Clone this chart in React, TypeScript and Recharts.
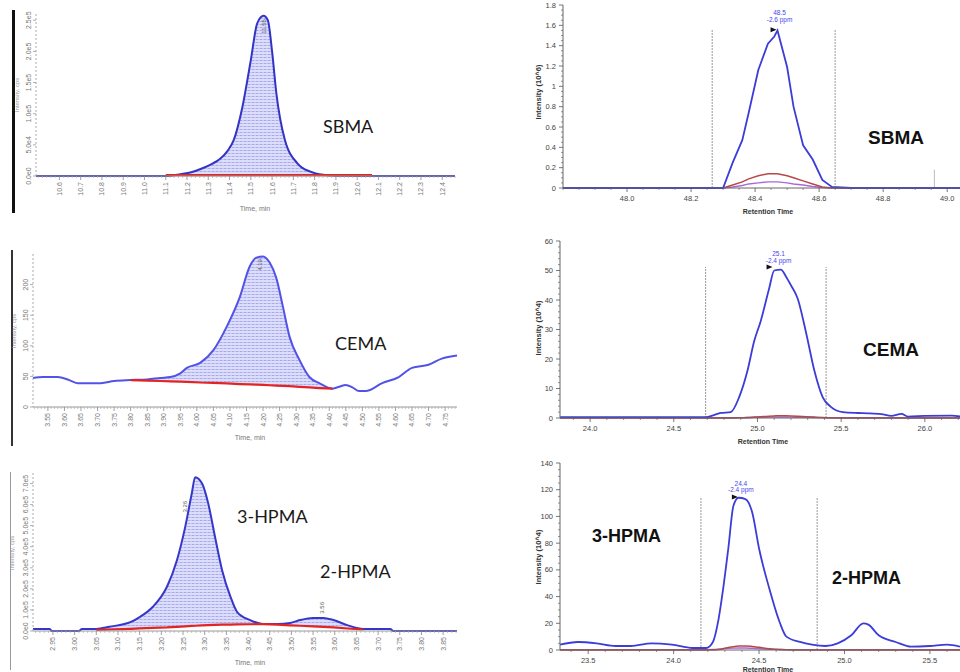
import React from 'react';
import { ComposedChart, Line, Area, XAxis, YAxis, ReferenceLine, ReferenceDot } from 'recharts';

// ================= DATA =================
// Top-left: SBMA (Time, min)
const sbmaLTime = [10.49, 10.8, 11.1, 11.17, 11.22, 11.27, 11.32, 11.35, 11.39, 11.42, 11.46, 11.5, 11.53, 11.56, 11.58, 11.6, 11.62, 11.66, 11.72, 11.78, 11.84, 11.9, 12.07, 12.3, 12.46];
const sbmaLSignal = [0, 0, 0, 3000, 6000, 12000, 20000, 26000, 40000, 58000, 110000, 186000, 245000, 257000, 250000, 200000, 133000, 58000, 20000, 7000, 2000, 500, 0, 0, 0];
const sbmaLBase = [null, null, 1500, 1500, 1500, 1500, 1500, 1500, 1500, 1500, 1500, 1500, 1500, 1500, 1500, 1500, 1500, 1500, 1500, 1500, 1500, 1500, 1500, null, null];
const sbmaLXTicks = [10.6, 10.7, 10.8, 10.9, 11.0, 11.1, 11.2, 11.3, 11.4, 11.5, 11.6, 11.7, 11.8, 11.9, 12.0, 12.1, 12.2, 12.3, 12.4];
const sbmaLYTicks = [0, 50000, 100000, 150000, 200000, 250000];
const sbmaLYLabels = ['0.0e0', '5.0e4', '1.0e5', '1.5e5', '2.0e5', '2.5e5'];
const sbmaLPeakTags = [{ t: 11.56, v: 240000, label: '11.55' }];

// Middle-left: CEMA
const cemaLTime = [3.505, 3.535, 3.58, 3.61, 3.64, 3.71, 3.75, 3.8, 3.85, 3.89, 3.92, 3.95, 3.97, 4.01, 4.05, 4.09, 4.13, 4.16, 4.18, 4.2, 4.22, 4.24, 4.26, 4.28, 4.31, 4.34, 4.37, 4.41, 4.43, 4.45, 4.47, 4.49, 4.51, 4.56, 4.61, 4.65, 4.7, 4.74, 4.786];
const cemaLSignal = [47.5, 49, 49, 45, 39, 39, 42.5, 44, 45, 47.5, 49, 55, 64, 72, 93, 131, 180, 230, 244, 246, 236, 211, 164, 115, 77, 49, 39, 30, 33, 36, 32, 26, 26, 39, 49, 64, 69, 79, 84];
const cemaLBase = [null, null, null, null, null, null, null, 44, 43, 42.5, 42, 41.5, 41, 40, 39.5, 38.5, 37.5, 37, 36.5, 36, 35.5, 35, 34.5, 34, 33, 32, 31, 30, null, null, null, null, null, null, null, null, null, null, null];
const cemaLXTicks = [3.55, 3.6, 3.65, 3.7, 3.75, 3.8, 3.85, 3.9, 3.95, 4.0, 4.05, 4.1, 4.15, 4.2, 4.25, 4.3, 4.35, 4.4, 4.45, 4.5, 4.55, 4.6, 4.65, 4.7, 4.75];
const cemaLYTicks = [0, 50, 100, 150, 200];
const cemaLYLabels = ['0', '50', '100', '150', '200'];
const cemaLPeakTags = [{ t: 4.19, v: 232, label: '4.19' }];

// Bottom-left: 3-HPMA / 2-HPMA
const hpmaLTime = [2.904, 2.943, 2.947, 3.01, 3.017, 3.05, 3.08, 3.13, 3.15, 3.18, 3.213, 3.236, 3.255, 3.27, 3.278, 3.294, 3.308, 3.324, 3.34, 3.36, 3.375, 3.405, 3.435, 3.467, 3.497, 3.52, 3.55, 3.574, 3.597, 3.629, 3.666, 3.728, 3.735, 3.882];
const hpmaLSignal = [10000, 10000, 0, 0, 10000, 10000, 20000, 43000, 66000, 114000, 210000, 336000, 493000, 650000, 730000, 700000, 607000, 445000, 290000, 160000, 90000, 52000, 33000, 33000, 38000, 52000, 62000, 62000, 52000, 28000, 10000, 10000, 0, 0];
const hpmaLBase = [null, null, null, null, null, 5000, 7000, 10000, 12000, 15000, 17000, 20000, 22000, 24000, 25000, 27000, 28000, 29000, 30000, 30000, 31000, 32000, 33000, 30000, 27000, 25000, 22000, 20000, 17000, 12000, 7000, null, null, null];
const hpmaLXTicks = [2.95, 3.0, 3.05, 3.1, 3.15, 3.2, 3.25, 3.3, 3.35, 3.4, 3.45, 3.5, 3.55, 3.6, 3.65, 3.7, 3.75, 3.8, 3.85];
const hpmaLYTicks = [0, 100000, 200000, 300000, 400000, 500000, 600000, 700000];
const hpmaLYLabels = ['0.0e0', '1.0e5', '2.0e5', '3.0e5', '4.0e5', '5.0e5', '6.0e5', '7.0e5'];
const hpmaLPeakTags = [{ t: 3.254, v: 590000, label: '3.26' }, { t: 3.57, v: 110000, label: '3.56' }];

// Top-right: SBMA (Retention Time, Intensity 10^6)
const sbmaRTime = [47.8, 48.0, 48.2, 48.27, 48.3, 48.33, 48.36, 48.38, 48.41, 48.44, 48.46, 48.47, 48.5, 48.52, 48.55, 48.58, 48.61, 48.64, 48.7, 49.04];
const sbmaRBlue = [0, 0, 0, 0, 0, 0.25, 0.47, 0.74, 1.16, 1.42, 1.49, 1.55, 1.19, 0.8, 0.42, 0.28, 0.08, 0.01, 0, 0];
const sbmaRRed = [0, 0, 0, 0, 0, 0.03, 0.06, 0.09, 0.12, 0.14, 0.14, 0.14, 0.12, 0.1, 0.07, 0.04, 0.01, 0, 0, 0];
const sbmaRPurple = [0, 0, 0, 0, 0, 0.01, 0.025, 0.04, 0.05, 0.06, 0.06, 0.06, 0.05, 0.04, 0.03, 0.015, 0.005, 0, 0, 0];
const sbmaRXTicks = [48.0, 48.2, 48.4, 48.6, 48.8, 49.0];
const sbmaRYTicks = [0, 0.2, 0.4, 0.6, 0.8, 1, 1.2, 1.4, 1.6, 1.8];
const sbmaRWindow = [48.266, 48.65];
const sbmaRMarker = { t: 48.96, v: 0.18 };
const sbmaRPeak = { t: 48.467, v: 1.557, label: '48.5', ppm: '-2.6 ppm' };

// Middle-right: CEMA (Intensity 10^4)
const cemaRTime = [23.82, 24.0, 24.3, 24.5, 24.69, 24.74, 24.78, 24.84, 24.89, 24.94, 24.98, 25.02, 25.07, 25.1, 25.14, 25.17, 25.2, 25.24, 25.29, 25.34, 25.39, 25.44, 25.51, 25.6, 25.66, 25.74, 25.8, 25.86, 25.9, 26.0, 26.16, 26.21];
const cemaRBlue = [0.3, 0.3, 0.3, 0.3, 0.3, 1.0, 1.7, 2.0, 7, 16, 26, 33, 44, 50, 50.3, 48, 45, 40.5, 29, 16, 7, 3.7, 2, 1.7, 1.6, 1.3, 0.7, 1.4, 0.5, 0.7, 0.8, 0.5];
const cemaRRed = [0, 0, 0, 0, 0, 0, 0, 0, 0.05, 0.15, 0.3, 0.45, 0.6, 0.7, 0.8, 0.75, 0.7, 0.6, 0.45, 0.3, 0.15, 0.05, 0, 0, 0, 0, 0, 0, 0, 0, 0, 0];
const cemaRPurple = [0.1, 0.1, 0.1, 0.1, 0.1, 0.1, 0.1, 0.1, 0.12, 0.15, 0.2, 0.25, 0.3, 0.32, 0.35, 0.33, 0.3, 0.25, 0.2, 0.15, 0.12, 0.1, 0.1, 0.1, 0.1, 0.1, 0.1, 0.1, 0.1, 0.1, 0.1, 0.1];
const cemaRXTicks = [24.0, 24.5, 25.0, 25.5, 26.0];
const cemaRYTicks = [0, 10, 20, 30, 40, 50, 60];
const cemaRWindow = [24.69, 25.41];
const cemaRPeak = { t: 25.09, v: 51.2, label: '25.1', ppm: '-2.4 ppm' };

// Bottom-right: 3-HPMA / 2-HPMA (Intensity 10^4)
const hpmaRTime = [23.335, 23.44, 23.55, 23.66, 23.75, 23.87, 23.99, 24.11, 24.19, 24.23, 24.26, 24.29, 24.32, 24.35, 24.38, 24.42, 24.46, 24.5, 24.56, 24.62, 24.66, 24.74, 24.81, 24.89, 24.96, 25.04, 25.11, 25.14, 25.2, 25.3, 25.39, 25.5, 25.6, 25.676];
const hpmaRBlue = [4, 6, 5, 3, 3, 5, 4, 1.5, 1.5, 6, 21, 46, 76, 108, 114, 113, 103, 76, 46, 21, 10, 6, 4, 3, 5, 11, 20, 19, 11, 6, 2.5, 3, 4, 2.5];
const hpmaRRed = [0, 0, 0, 0, 0, 0, 0, 0, 0, 0.1, 0.4, 1, 1.8, 2.5, 3, 3, 2.6, 2, 1, 0.4, 0.2, 0, 0, 0, 0, 0, 0, 0, 0, 0, 0, 0, 0, 0];
const hpmaRPurple = [0.3, 0.3, 0.3, 0.3, 0.3, 0.3, 0.3, 0.3, 0.3, 0.4, 0.6, 0.9, 1.2, 1.4, 1.5, 1.5, 1.3, 1.0, 0.6, 0.4, 0.3, 0.3, 0.3, 0.3, 0.3, 0.3, 0.3, 0.3, 0.3, 0.3, 0.3, 0.3, 0.3, 0.3];
const hpmaRXTicks = [23.5, 24.0, 24.5, 25.0, 25.5];
const hpmaRYTicks = [0, 20, 40, 60, 80, 100, 120, 140];
const hpmaRWindow = [24.16, 24.84];
const hpmaRPeak = { t: 24.376, v: 114.6, label: '24.4', ppm: '-2.4 ppm' };

// ================= HELPERS =================
const near = (a: number, b: number) => Math.abs(a - b) < 1e-6;

function withMinors(majors: number[], d0: number, d1: number, step: number) {
  const out: number[] = [...majors];
  const s = Math.ceil(d0 / step - 1e-9);
  const e = Math.floor(d1 / step + 1e-9);
  for (let k = s; k <= e; k++) {
    const v = +(k * step).toFixed(5);
    if (!out.some((m) => near(m, v))) out.push(v);
  }
  return out.sort((a, b) => a - b);
}

const LEFT_FONT = 'Liberation Sans, Arial, sans-serif';

function leftXTick(majors: number[], digits: number) {
  return (props: any) => {
    const { x, y, payload } = props;
    const major = majors.some((m) => near(m, payload.value));
    if (!major) return <line x1={x} y1={y} x2={x} y2={y + 2} stroke="#aaa" strokeWidth={0.7} />;
    const ty = y + 6;
    return (
      <g>
        <line x1={x} y1={y} x2={x} y2={y + 4} stroke="#888" strokeWidth={0.8} />
        <text x={x} y={ty} transform={`rotate(-90 ${x} ${ty})`} textAnchor="end" dominantBaseline="central" fontSize={7} fill="#777" fontFamily={LEFT_FONT}>
          {payload.value.toFixed(digits)}
        </text>
      </g>
    );
  };
}

function leftYTick(ticks: number[], labels: string[]) {
  return (props: any) => {
    const { x, y, payload } = props;
    const i = ticks.findIndex((m) => near(m, payload.value));
    const tx = x - 5;
    return (
      <g>
        <line x1={x} y1={y} x2={x - 3} y2={y} stroke="#999" strokeWidth={0.8} />
        <text x={tx} y={y} transform={`rotate(-90 ${tx} ${y})`} textAnchor="middle" fontSize={7} fill="#777" fontFamily={LEFT_FONT}>
          {i >= 0 ? labels[i] : ''}
        </text>
      </g>
    );
  };
}

function rightYTick(majors: number[]) {
  return (props: any) => {
    const { x, y, payload } = props;
    const major = majors.some((m) => near(m, payload.value));
    if (!major) return <line x1={x} y1={y} x2={x - 2} y2={y} stroke="#666" strokeWidth={0.7} />;
    return (
      <g>
        <line x1={x} y1={y} x2={x - 4} y2={y} stroke="#555" strokeWidth={0.8} />
        <text x={x - 7} y={y} textAnchor="end" dominantBaseline="central" fontSize={7.5} fill="#444" fontFamily={LEFT_FONT}>
          {String(+payload.value.toFixed(1))}
        </text>
      </g>
    );
  };
}

function rightXTick(majors: number[]) {
  return (props: any) => {
    const { x, y, payload } = props;
    const major = majors.some((m) => near(m, payload.value));
    if (!major) return <line x1={x} y1={y} x2={x} y2={y + 2} stroke="#666" strokeWidth={0.7} />;
    return (
      <g>
        <line x1={x} y1={y} x2={x} y2={y + 4} stroke="#555" strokeWidth={0.8} />
        <text x={x} y={y + 10} textAnchor="middle" dominantBaseline="central" fontSize={7.5} fill="#444" fontFamily={LEFT_FONT}>
          {payload.value.toFixed(1)}
        </text>
      </g>
    );
  };
}

const leftTagShape = (label: string) => (props: any) => {
  const { cx, cy } = props;
  return (
    <text x={cx} y={cy} transform={`rotate(-90 ${cx} ${cy})`} textAnchor="middle" dominantBaseline="central" fontSize={6} fill="#555" fontFamily={LEFT_FONT}>
      {label}
    </text>
  );
};

const rightTagShape = (label: string, ppm: string, dx: number, dy1: number, dy2: number) => (props: any) => {
  const { cx, cy } = props;
  return (
    <g>
      <text x={cx + dx} y={cy + dy1} textAnchor="middle" dominantBaseline="central" fontSize={6.5} fill="#4646f0" fontFamily={LEFT_FONT}>{label}</text>
      <text x={cx + dx} y={cy + dy2} textAnchor="middle" dominantBaseline="central" fontSize={6.5} fill="#4646f0" fontFamily={LEFT_FONT}>{ppm}</text>
      <polygon points={`${cx - 6},${cy - 2.5} ${cx - 6},${cy + 2.5} ${cx},${cy}`} fill="#111" />
    </g>
  );
};

type LeftProps = {
  left: number; top: number; width: number; height: number;
  mTop: number; mRight: number; yW: number; xH: number;
  time: number[]; sig: number[]; base: (number | null)[];
  xDomain: [number, number]; yDomain: [number, number];
  xMajors: number[]; xMinor: number; digits: number;
  yTicks: number[]; yLabels: string[];
  tags: { t: number; v: number; label: string }[];
  id: string; color: string;
};

function LeftPanel(p: LeftProps) {
  const rows = p.time.map((t, i) => ({
    t,
    sig: p.sig[i],
    base: p.base[i],
    band: p.base[i] == null ? null : [p.base[i], p.sig[i]],
  }));
  const xt = withMinors(p.xMajors, p.xDomain[0], p.xDomain[1], p.xMinor);
  return (
    <div style={{ position: 'absolute', left: p.left, top: p.top }}>
      <ComposedChart width={p.width} height={p.height} data={rows} margin={{ top: p.mTop, right: p.mRight, bottom: 0, left: 0 }}>
        <defs>
          <pattern id={p.id} width="4" height="3" patternUnits="userSpaceOnUse">
            <rect width="4" height="3" fill="#dcdcfb" />
            <line x1="0" y1="0.5" x2="4" y2="0.5" stroke="#9c9cea" strokeWidth="0.8" strokeDasharray="2.5 1" />
          </pattern>
        </defs>
        <XAxis dataKey="t" type="number" domain={p.xDomain} ticks={xt} interval={0}
          tick={leftXTick(p.xMajors, p.digits)} tickLine={false} tickSize={0} tickMargin={0}
          axisLine={{ stroke: '#999', strokeWidth: 1 }} height={p.xH} />
        <YAxis type="number" domain={p.yDomain} ticks={p.yTicks} interval={0}
          tick={leftYTick(p.yTicks, p.yLabels)} tickLine={false} tickSize={0} tickMargin={0}
          axisLine={{ stroke: '#aaa', strokeDasharray: '2 2' }} width={p.yW} />
        <Area dataKey="band" type="monotone" fill={`url(#${p.id})`} fillOpacity={1} stroke="none" isAnimationActive={false} connectNulls={false} dot={false} activeDot={false} />
        <Line dataKey="sig" type="monotone" stroke={p.color} strokeWidth={2} dot={false} activeDot={false} isAnimationActive={false} />
        <Line dataKey="base" type="linear" stroke="#e22424" strokeWidth={2.2} dot={false} activeDot={false} isAnimationActive={false} connectNulls={false} />
        {p.tags.map((tg, i) => (
          <ReferenceDot key={i} x={tg.t} y={tg.v} r={0} shape={leftTagShape(tg.label)} />
        ))}
      </ComposedChart>
    </div>
  );
}

type RightProps = {
  left: number; top: number; width: number; height: number;
  mTop: number; yW: number; xH: number;
  time: number[]; blue: number[]; red: number[]; purple: number[];
  xDomain: [number, number]; yDomain: [number, number];
  xMajors: number[]; xMinor: number; yMajors: number[]; yMinor: number;
  win: number[]; peak: { t: number; v: number; label: string; ppm: string };
  marker?: { t: number; v: number };
  tagDx: number; tagDy1: number; tagDy2: number; curve: 'linear' | 'monotone';
};

function RightPanel(p: RightProps) {
  const rows = p.time.map((t, i) => ({ t, blue: p.blue[i], red: p.red[i], purple: p.purple[i] }));
  const xt = withMinors(p.xMajors, p.xDomain[0], p.xDomain[1], p.xMinor);
  const yt = withMinors(p.yMajors, p.yDomain[0], p.yDomain[1], p.yMinor);
  return (
    <div style={{ position: 'absolute', left: p.left, top: p.top }}>
      <ComposedChart width={p.width} height={p.height} data={rows} margin={{ top: p.mTop, right: 0, bottom: 0, left: 0 }}>
        <XAxis dataKey="t" type="number" domain={p.xDomain} ticks={xt} interval={0}
          tick={rightXTick(p.xMajors)} tickLine={false} tickSize={0} tickMargin={0}
          axisLine={{ stroke: '#666', strokeWidth: 1 }} height={p.xH} />
        <YAxis type="number" domain={p.yDomain} ticks={yt} interval={0}
          tick={rightYTick(p.yMajors)} tickLine={false} tickSize={0} tickMargin={0}
          axisLine={{ stroke: '#666', strokeWidth: 1 }} width={p.yW} />
        {p.win.map((w, i) => (
          <ReferenceLine key={i} segment={[{ x: w, y: 0 }, { x: w, y: p.peak.v }]} stroke="#999" strokeWidth={1} strokeDasharray="2 1" />
        ))}
        {p.marker && (
          <ReferenceLine segment={[{ x: p.marker.t, y: 0 }, { x: p.marker.t, y: p.marker.v }]} stroke="#bbb" strokeWidth={1} />
        )}
        <Line dataKey="purple" type={p.curve} stroke="#a868dc" strokeWidth={1.4} dot={false} activeDot={false} isAnimationActive={false} />
        <Line dataKey="red" type={p.curve} stroke="#b84848" strokeWidth={1.5} dot={false} activeDot={false} isAnimationActive={false} />
        <Line dataKey="blue" type={p.curve} stroke="#3c3cd8" strokeWidth={1.8} dot={false} activeDot={false} isAnimationActive={false} />
        <ReferenceDot x={p.peak.t} y={p.peak.v} r={0} shape={rightTagShape(p.peak.label, p.peak.ppm, p.tagDx, p.tagDy1, p.tagDy2)} />
      </ComposedChart>
    </div>
  );
}

// ================= APP =================
export default function App() {
  const calibri = 'Lato, "Open Sans", sans-serif';
  const arial = '"Liberation Sans", Arial, sans-serif';
  return (
    <div style={{ position: 'absolute', left: 0, top: 0, width: 960, height: 672, background: '#fff', overflow: 'hidden' }}>
      <LeftPanel left={0} top={0} width={460} height={215} mTop={14} mRight={5} yW={36} xH={39}
        time={sbmaLTime} sig={sbmaLSignal} base={sbmaLBase}
        xDomain={[10.49, 12.46]} yDomain={[0, 260000]}
        xMajors={sbmaLXTicks} xMinor={0.02} digits={1}
        yTicks={sbmaLYTicks} yLabels={sbmaLYLabels} tags={sbmaLPeakTags} id="hatchA" color="#3333c4" />
      <LeftPanel left={0} top={240} width={460} height={210} mTop={14} mRight={3} yW={33} xH={43}
        time={cemaLTime} sig={cemaLSignal} base={cemaLBase}
        xDomain={[3.505, 4.786]} yDomain={[0, 250]}
        xMajors={cemaLXTicks} xMinor={0.01} digits={2}
        yTicks={cemaLYTicks} yLabels={cemaLYLabels} tags={cemaLPeakTags} id="hatchB" color="#5252e6" />
      <LeftPanel left={0} top={460} width={460} height={212} mTop={13} mRight={3} yW={33} xH={41}
        time={hpmaLTime} sig={hpmaLSignal} base={hpmaLBase}
        xDomain={[2.904, 3.882]} yDomain={[0, 750000]}
        xMajors={hpmaLXTicks} xMinor={0.01} digits={2}
        yTicks={hpmaLYTicks} yLabels={hpmaLYLabels} tags={hpmaLPeakTags} id="hatchC" color="#3636c8" />

      <RightPanel left={520} top={0} width={440} height={215} mTop={5} yW={43} xH={27}
        time={sbmaRTime} blue={sbmaRBlue} red={sbmaRRed} purple={sbmaRPurple}
        xDomain={[47.8, 49.04]} yDomain={[0, 1.8]} xMajors={sbmaRXTicks} xMinor={0.05}
        yMajors={sbmaRYTicks} yMinor={0.05} win={sbmaRWindow} peak={sbmaRPeak} marker={sbmaRMarker}
        tagDx={3} tagDy1={-17} tagDy2={-10} curve="linear" />
      <RightPanel left={520} top={230} width={440} height={220} mTop={11} yW={40} xH={32}
        time={cemaRTime} blue={cemaRBlue} red={cemaRRed} purple={cemaRPurple}
        xDomain={[23.82, 26.21]} yDomain={[0, 60]} xMajors={cemaRXTicks} xMinor={0.1}
        yMajors={cemaRYTicks} yMinor={2} win={cemaRWindow} peak={cemaRPeak}
        tagDx={6} tagDy1={-13} tagDy2={-6} curve="monotone" />
      <RightPanel left={520} top={455} width={440} height={217} mTop={8} yW={40} xH={22}
        time={hpmaRTime} blue={hpmaRBlue} red={hpmaRRed} purple={hpmaRPurple}
        xDomain={[23.335, 25.676]} yDomain={[0, 140]} xMajors={hpmaRXTicks} xMinor={0.1}
        yMajors={hpmaRYTicks} yMinor={5} win={hpmaRWindow} peak={hpmaRPeak}
        tagDx={3} tagDy1={-13} tagDy2={-7} curve="monotone" />

      {/* frame bars of left panels */}
      <div style={{ position: 'absolute', left: 12, top: 10, width: 3, height: 203, background: '#111' }} />
      <div style={{ position: 'absolute', left: 11, top: 250, width: 2, height: 196, background: '#333' }} />
      <div style={{ position: 'absolute', left: 10, top: 472, width: 1, height: 198, background: '#999' }} />

      <svg width={960} height={672} style={{ position: 'absolute', left: 0, top: 0, pointerEvents: 'none' }}>
        {/* left panel labels */}
        <text x={323} y={126} dominantBaseline="central" fontSize={18} fill="#1a1a1a" fontFamily={calibri}>SBMA</text>
        <text x={335} y={343} dominantBaseline="central" fontSize={18} fill="#1a1a1a" fontFamily={calibri}>CEMA</text>
        <text x={237} y={516} dominantBaseline="central" fontSize={18} fill="#1a1a1a" fontFamily={calibri}>3-HPMA</text>
        <text x={320} y={571} dominantBaseline="central" fontSize={18} fill="#1a1a1a" fontFamily={calibri}>2-HPMA</text>
        <text x={255} y={208} textAnchor="middle" dominantBaseline="central" fontSize={7} fill="#777" fontFamily={arial}>Time, min</text>
        <text x={250} y={437} textAnchor="middle" dominantBaseline="central" fontSize={7} fill="#777" fontFamily={arial}>Time, min</text>
        <text x={250} y={662} textAnchor="middle" dominantBaseline="central" fontSize={7} fill="#777" fontFamily={arial}>Time, min</text>
        <text x={17} y={95} transform="rotate(-90 17 95)" textAnchor="middle" dominantBaseline="central" fontSize={6} fill="#999" fontFamily={arial}>Intensity, cps</text>
        <text x={14} y={331} transform="rotate(-90 14 331)" textAnchor="middle" dominantBaseline="central" fontSize={6} fill="#999" fontFamily={arial}>Intensity, cps</text>
        <text x={12} y={553} transform="rotate(-90 12 553)" textAnchor="middle" dominantBaseline="central" fontSize={6} fill="#999" fontFamily={arial}>Intensity, cps</text>

        {/* right panel labels */}
        <text x={868} y={137} dominantBaseline="central" fontSize={19} fontWeight="bold" fill="#111" fontFamily={arial}>SBMA</text>
        <text x={863} y={349} dominantBaseline="central" fontSize={19} fontWeight="bold" fill="#111" fontFamily={arial}>CEMA</text>
        <text x={592} y={536} dominantBaseline="central" fontSize={18} fontWeight="bold" fill="#111" fontFamily={arial}>3-HPMA</text>
        <text x={832} y={578} dominantBaseline="central" fontSize={18} fontWeight="bold" fill="#111" fontFamily={arial}>2-HPMA</text>
        <text x={538} y={92} transform="rotate(-90 538 92)" textAnchor="middle" dominantBaseline="central" fontSize={7.5} fontWeight="bold" fill="#333" fontFamily={arial}>Intensity (10^6)</text>
        <text x={538} y={328} transform="rotate(-90 538 328)" textAnchor="middle" dominantBaseline="central" fontSize={7.5} fontWeight="bold" fill="#333" fontFamily={arial}>Intensity (10^4)</text>
        <text x={538} y={557} transform="rotate(-90 538 557)" textAnchor="middle" dominantBaseline="central" fontSize={7.5} fontWeight="bold" fill="#333" fontFamily={arial}>Intensity (10^4)</text>
        <text x={768} y={211} textAnchor="middle" dominantBaseline="central" fontSize={7} fontWeight="bold" fill="#333" fontFamily={arial}>Retention Time</text>
        <text x={763} y={441} textAnchor="middle" dominantBaseline="central" fontSize={7} fontWeight="bold" fill="#333" fontFamily={arial}>Retention Time</text>
        <text x={768} y={669} textAnchor="middle" dominantBaseline="central" fontSize={7} fontWeight="bold" fill="#333" fontFamily={arial}>Retention Time</text>
      </svg>
    </div>
  );
}
